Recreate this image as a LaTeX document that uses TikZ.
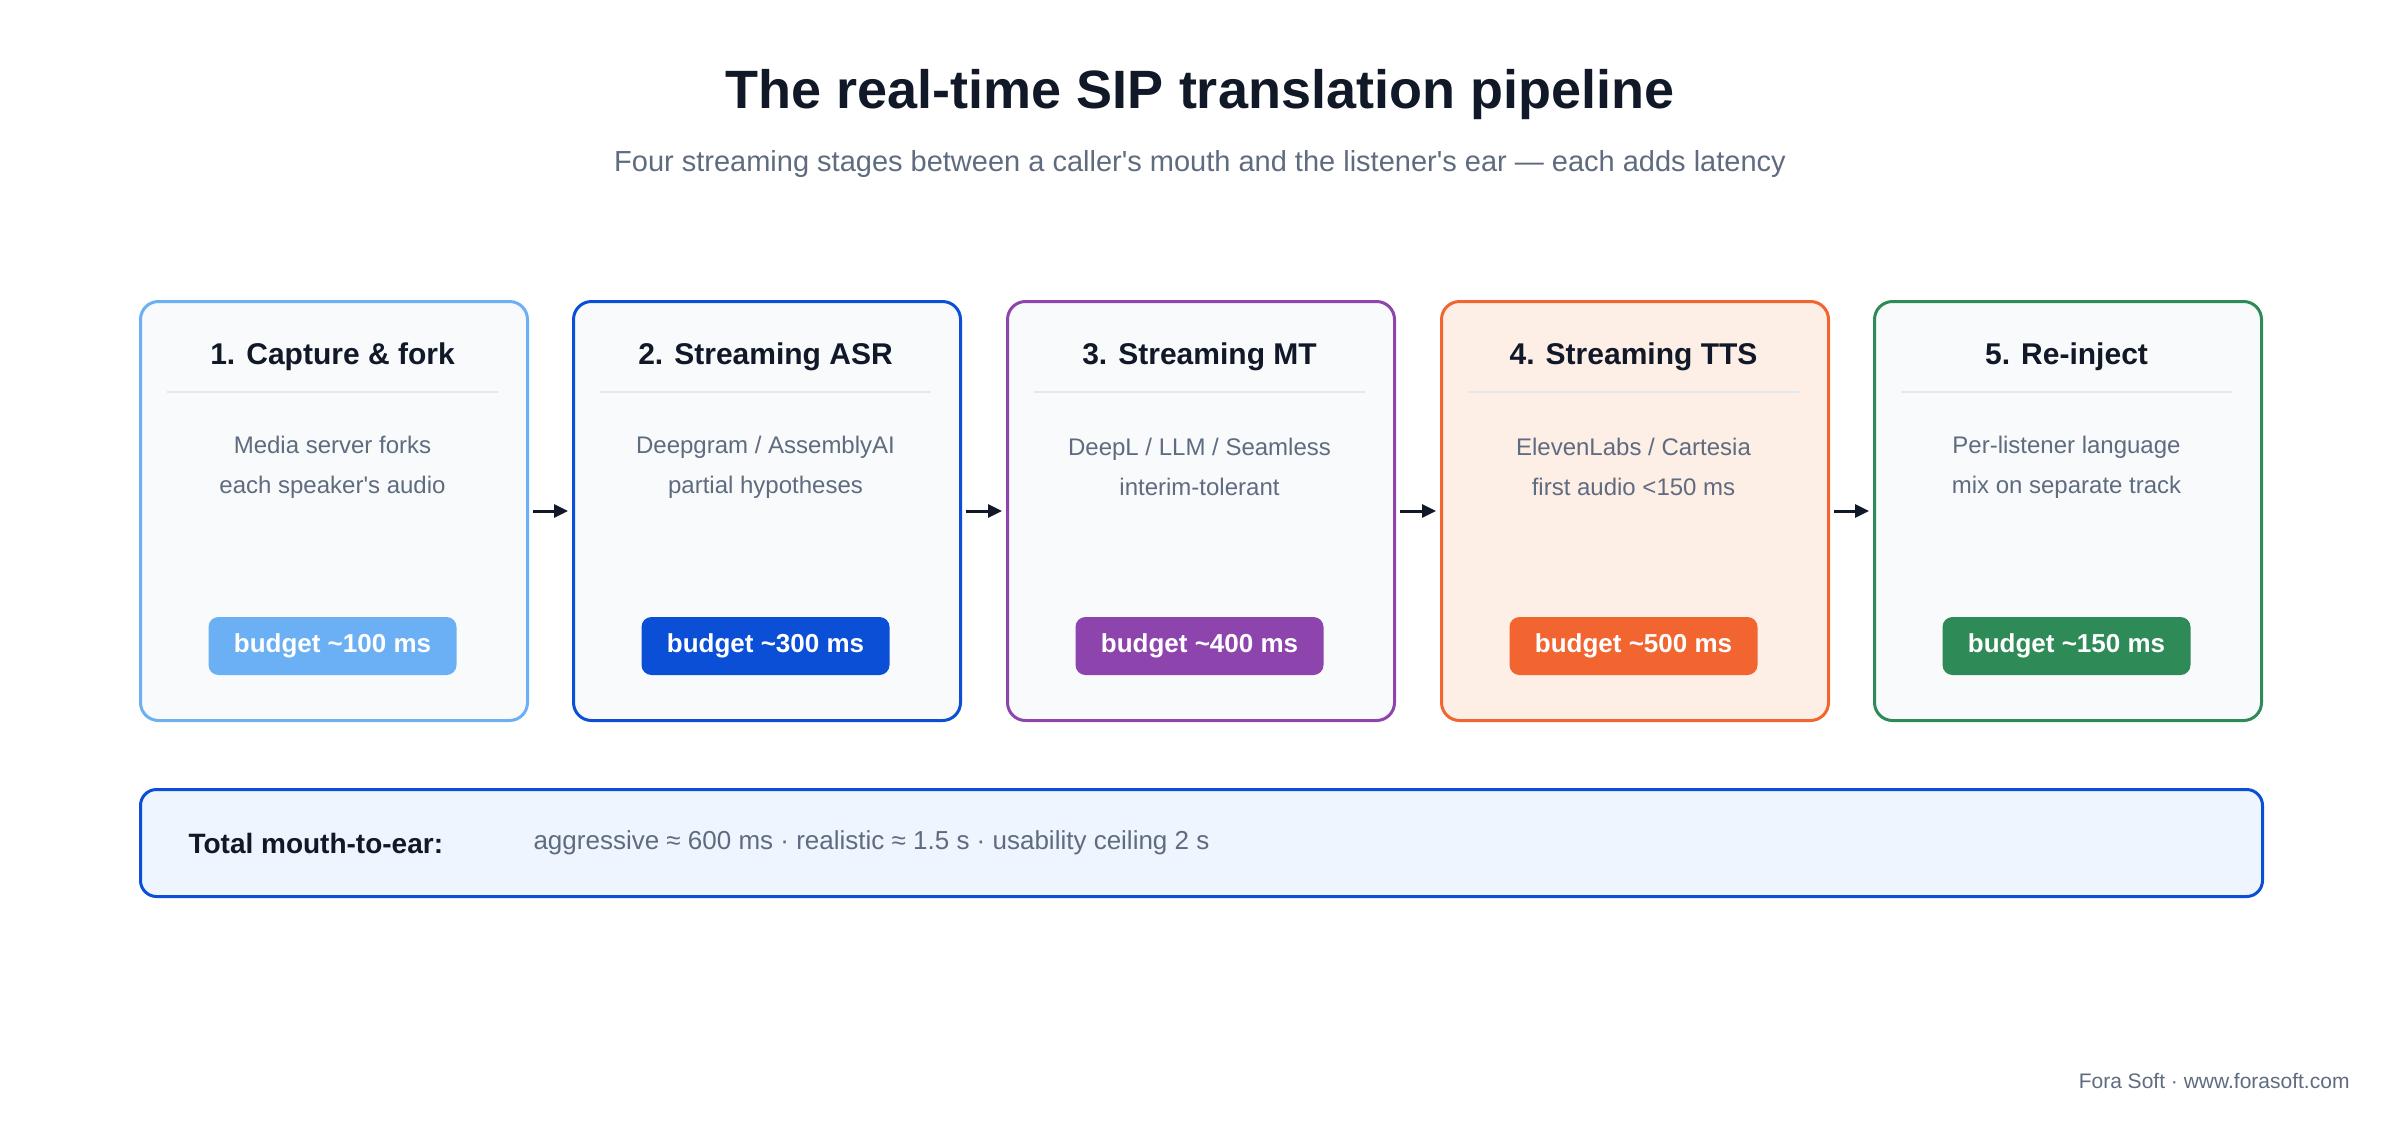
\documentclass[tikz,border=0pt]{standalone}
\usepackage{fontspec}
\setmainfont{Liberation Sans}
\usetikzlibrary{arrows.meta}
\definecolor{ink}{HTML}{111827}
\definecolor{muted}{HTML}{5F6B7F}
\definecolor{sep}{HTML}{E2E8F0}
\definecolor{card}{HTML}{F8FAFC}
\definecolor{cA}{HTML}{6BB0F5}
\definecolor{cB}{HTML}{0B4FD6}
\definecolor{cC}{HTML}{8E44AD}
\definecolor{cD}{HTML}{F26530}
\definecolor{cE}{HTML}{2E8B57}
\definecolor{fD}{HTML}{FDEEE6}
\definecolor{fT}{HTML}{EEF5FE}
\begin{document}
\begin{tikzpicture}[x=1pt,y=-1pt,
  card/.style={draw=#1,line width=3pt,rounded corners=18pt,fill=card,minimum width=387pt,minimum height=419pt,anchor=north west,inner sep=0pt},
  head/.style={font=\fontsize{30}{34}\selectfont\bfseries,text=ink},
  body/.style={font=\fontsize{24}{40}\selectfont,text=muted,align=center},
  badge/.style={fill=#1,rounded corners=10pt,minimum width=248pt,minimum height=58pt,text=white,font=\fontsize{26}{30}\selectfont\bfseries,inner sep=0pt},
  arr/.style={-{Triangle[length=14pt,width=13pt]},line width=3pt,draw=ink}]
\useasboundingbox (0,0) rectangle (2400,1120);
\node[font=\fontsize{54}{60}\selectfont\bfseries,text=ink] (title) at (1200,95) {The real-time SIP translation pipeline};
\node[font=\fontsize{29}{34}\selectfont,text=muted] (sub) at (1200,164) {Four streaming stages between a caller\textquotesingle s mouth and the listener\textquotesingle s ear — each adds latency};
\foreach \i/\x/\c/\f/\h/\la/\lb/\b in {
 1/139/cA/card/{1. Capture \& fork}/{Media server forks}/{each speaker\textquotesingle s audio}/100,
 2/572/cB/card/{2. Streaming ASR}/{Deepgram / AssemblyAI}/{partial hypotheses}/300,
 3/1006/cC/card/{3. Streaming MT}/{DeepL / LLM / Seamless}/{interim-tolerant}/400,
 4/1440/cD/fD/{4. Streaming TTS}/{ElevenLabs / Cartesia}/{first audio <150 ms}/500,
 5/1873/cE/card/{5. Re-inject}/{Per-listener language}/{mix on separate track}/150}{
 \node[card=\c,fill=\f] (b\i) at (\x,300) {};
 \node[head] (h\i) at (\x+193.5,357) {\h};
 \draw[sep,line width=1.5pt] (\x+28,392) -- (\x+359,392);
 \node[body] (t\i) at (\x+193.5,467) {\la\\\lb};
 \node[badge=\c] (g\i) at (\x+193.5,646) {budget \textasciitilde\b\ ms};
}
\foreach \a/\b in {1/2,2/3,3/4,4/5}{
 \draw[arr] ([xshift=4pt]b\a.east) -- ([xshift=-4pt]b\b.west);
}
\node[draw=cB,line width=3pt,fill=fT,rounded corners=16pt,minimum width=2122pt,minimum height=107pt,anchor=north west] (tot) at (139,788) {};
\node[anchor=west,font=\fontsize{28}{32}\selectfont\bfseries,text=ink] (tl) at (185,843) {Total mouth-to-ear:};
\node[anchor=west,font=\fontsize{26}{30}\selectfont,text=muted] (tv) at (530,843) {aggressive ≈ 600 ms · realistic ≈ 1.5 s · usability ceiling 2 s};
\node[anchor=east,font=\fontsize{21}{25}\selectfont,text=muted] (ft) at (2353,1081) {Fora Soft · www.forasoft.com};
\end{tikzpicture}
\end{document}
